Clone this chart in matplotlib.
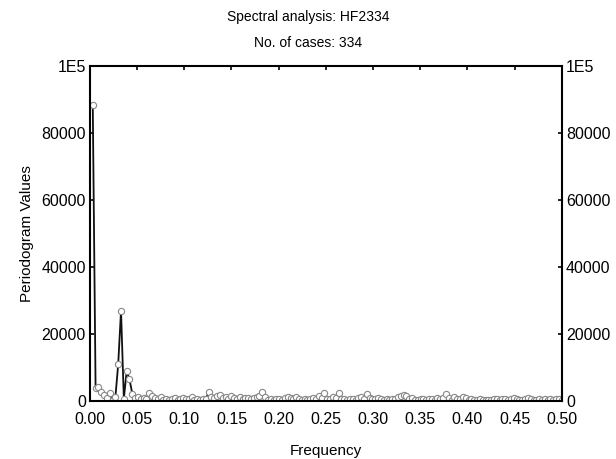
import numpy as np
import matplotlib.pyplot as plt

# periodogram values for k = 1..167 (frequency k/334)
n_cases = 334
periodogram = [
    88500, 3800, 4200, 2600, 1800, 900, 2300, 300, 1100, 11000,
    27000, 700, 9000, 6500, 2200, 900, 1300, 500, 1000, 700,
    2400, 1500, 900, 600, 1100, 400, 700, 300, 500, 800,
    400, 600, 900, 500, 700, 1200, 300, 600, 400, 500,
    700, 2600, 1300, 900, 1500, 1700, 800, 1200, 600, 1400,
    900, 700, 1100, 500, 800, 1000, 700, 900, 1300, 1500,
    2700, 1100, 400, 700, 300, 500, 600, 400, 800, 1200,
    900, 600, 1100, 700, 400, 600, 300, 500, 800, 600,
    1500, 900, 2400, 700, 500, 1100, 900, 2300, 500, 700,
    300, 600, 500, 400, 800, 1200, 600, 2000, 1000, 700,
    500, 900, 600, 400, 700, 300, 500, 600, 1300, 1500,
    1800, 1400, 700, 900, 400, 300, 600, 500, 400, 700,
    500, 300, 800, 600, 1000, 2200, 900, 400, 1100, 600,
    700, 1200, 800, 400, 600, 300, 300, 500, 400, 300,
    400, 300, 500, 600, 300, 500, 700, 400, 600, 800,
    500, 300, 400, 600, 800, 500, 300, 400, 600, 300,
    500, 400, 700, 300, 500, 600, 400,
]
freq = np.arange(1, len(periodogram) + 1) / n_cases

x_ticks = [0.0, 0.05, 0.10, 0.15, 0.20, 0.25, 0.30, 0.35, 0.40, 0.45, 0.50]
y_ticks = [0, 20000, 40000, 60000, 80000, 100000]
y_labels = ['0', '20000', '40000', '60000', '80000', '1E5']

plt.rcParams['font.family'] = ['Liberation Sans', 'DejaVu Sans']
plt.rcParams['font.size'] = 10

fig = plt.figure(figsize=(6.16, 4.59), dpi=100)
ax = fig.add_axes([0.146, 0.126, 0.766, 0.730])

ax.plot(freq, periodogram, color='#111111', lw=1.3, marker='o', ms=4.5,
        mfc='white', mec='#888888', mew=0.8)

ax.set_xlim(0, 0.5)
ax.set_ylim(0, 100000)
ax.set_xticks(x_ticks)
ax.set_xticklabels([f'{t:.2f}' for t in x_ticks])
ax.set_yticks(y_ticks)
ax.set_yticklabels(y_labels)
ax.tick_params(direction='in', length=3, width=1.2, top=True, right=True,
               labelright=True, labelsize=11.5)
ax.tick_params(axis='x', pad=8)
ax.tick_params(axis='y', pad=3)
for s in ax.spines.values():
    s.set_linewidth(1.5)

ax.set_xlabel('Frequency', fontsize=11, labelpad=12)
ax.set_ylabel('Periodogram Values', fontsize=11, labelpad=5)

fig.text(0.5, 0.963, 'Spectral analysis: HF2334', ha='center', va='center')
fig.text(0.5, 0.906, 'No. of cases: 334', ha='center', va='center')

fig.savefig('out.png', dpi=100)
